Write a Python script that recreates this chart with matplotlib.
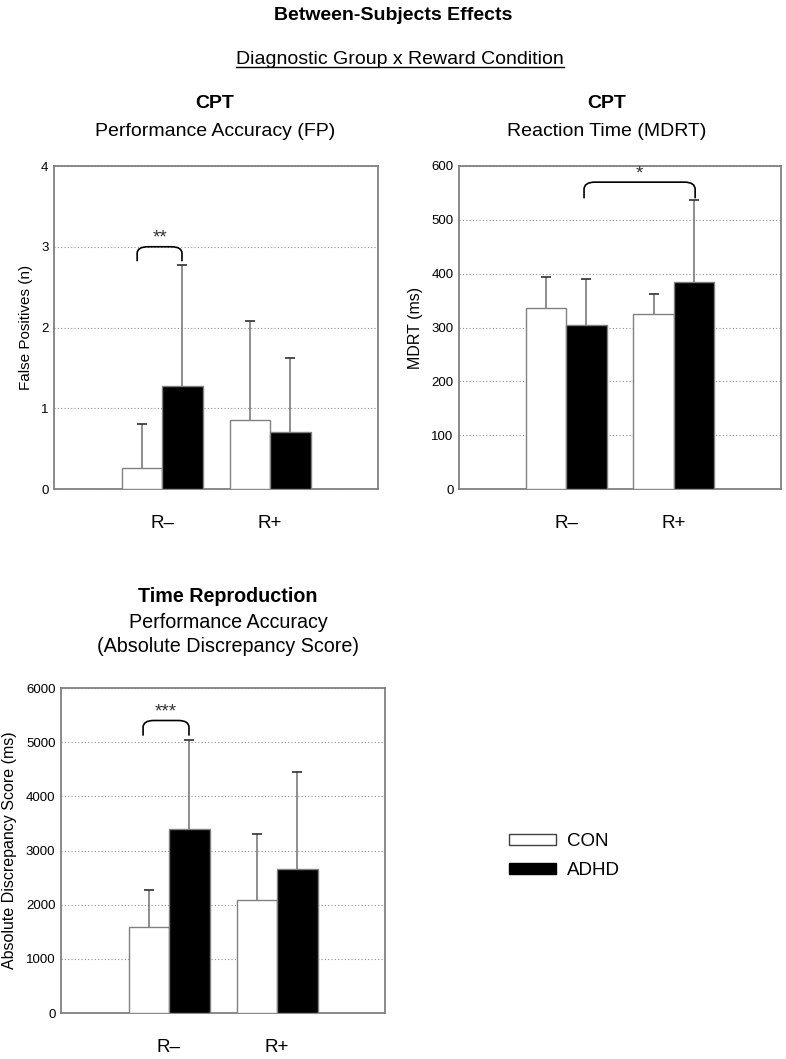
import numpy as np
import matplotlib
matplotlib.use("Agg")
import matplotlib.pyplot as plt
from matplotlib.patches import Patch, PathPatch
from matplotlib.path import Path
from matplotlib.lines import Line2D

plt.rcParams["font.family"] = ["Liberation Sans", "DejaVu Sans"]

# ----------------------------------------------------------------------
# data
# ----------------------------------------------------------------------
conditions = ["R\u2013", "R+"]
groups = ["CON", "ADHD"]

# CPT false positives
fp_con = [0.26, 0.85]
fp_adhd = [1.28, 0.70]
fp_con_sd = [0.55, 1.23]
fp_adhd_sd = [1.49, 0.92]

# CPT reaction time (MDRT, ms)
rt_con = [336, 326]
rt_adhd = [305, 385]
rt_con_sd = [57, 37]
rt_adhd_sd = [86, 151]

# Time reproduction absolute discrepancy score (ms)
tr_con = [1590, 2095]
tr_adhd = [3395, 2650]
tr_con_sd = [675, 1215]
tr_adhd_sd = [1645, 1795]

# significance brackets: (x_left, x_right, top, drop, label)
fp_bracket = (0.77, 1.185, 3.0, 0.18, "**")
rt_bracket = (1.165, 2.2, 570, 30, "*")
tr_bracket = (0.76, 1.185, 5400, 280, "***")

W, H = 786, 1059
BAR_W = 0.375
GREY = "#808080"


def px_axes(left, top, right, bottom):
    return [left / W, 1 - bottom / H, (right - left) / W, (bottom - top) / H]


def draw_bracket(ax, br, fs):
    x0, x1, top, drop, label = br
    dx = 0.1
    verts = [
        (x0, top - drop), (x0, top - drop * 0.45), (x0, top), (x0 + dx, top),
        (x1 - dx, top), (x1, top), (x1, top - drop * 0.45), (x1, top - drop),
    ]
    codes = [Path.MOVETO, Path.LINETO, Path.CURVE3, Path.CURVE3,
             Path.LINETO, Path.CURVE3, Path.CURVE3, Path.LINETO]
    ax.add_patch(PathPatch(Path(verts, codes), fill=False, edgecolor="black", lw=1.2, zorder=5))
    ax.text((x0 + x1) / 2, top, label, ha="center", va="bottom", fontsize=fs,
            color="#333333", zorder=5)


def bar_panel(ax, con, adhd, con_sd, adhd_sd, ymax, ystep, ylabel, tick_fs, lab_fs):
    x = np.arange(1, len(conditions) + 1)
    xc = x - BAR_W / 2
    xa = x + BAR_W / 2
    ax.bar(xc, con, BAR_W, color="white", edgecolor=GREY, lw=1, zorder=3)
    ax.bar(xa, adhd, BAR_W, color="black", edgecolor=GREY, lw=1, zorder=3)
    for xs, m, s in ((xc, con, con_sd), (xa, adhd, adhd_sd)):
        m = np.asarray(m, float)
        top = m + np.asarray(s, float)
        ax.vlines(xs, m, top, color="#707070", lw=1.1, zorder=4)
        ax.plot(xs, top, linestyle="none", marker="_", markersize=7, mew=1.2,
                color="#303030", zorder=4)
    ax.set_xlim(0, 3)
    ax.set_ylim(0, ymax)
    ax.set_yticks(np.arange(0, ymax + ystep / 2, ystep))
    ax.set_xticks(x)
    ax.set_xticklabels(conditions, fontsize=13.5)
    ax.tick_params(axis="x", length=0, pad=19)
    ax.tick_params(axis="y", length=0, pad=4, labelsize=tick_fs)
    ax.yaxis.grid(True, linestyle=(0, (1, 2)), color="#909090", lw=0.8, zorder=0)
    ax.set_axisbelow(True)
    for sp in ax.spines.values():
        sp.set_color(GREY)
        sp.set_linewidth(1.3)
    ax.set_ylabel(ylabel, fontsize=lab_fs, labelpad=6)


fig = plt.figure(figsize=(W / 100, H / 100), dpi=100)

ax1 = fig.add_axes(px_axes(54, 166, 378, 489))
bar_panel(ax1, fp_con, fp_adhd, fp_con_sd, fp_adhd_sd, 4, 1, "False Positives (n)", 9.5, 11)
draw_bracket(ax1, fp_bracket, 13.5)

ax2 = fig.add_axes(px_axes(459, 166, 781, 489))
bar_panel(ax2, rt_con, rt_adhd, rt_con_sd, rt_adhd_sd, 600, 100, "MDRT (ms)", 9.5, 11.5)
draw_bracket(ax2, rt_bracket, 13.5)

ax3 = fig.add_axes(px_axes(61, 688, 385, 1013))
bar_panel(ax3, tr_con, tr_adhd, tr_con_sd, tr_adhd_sd, 6000, 1000,
          "Absolute Discrepancy Score (ms)", 9.5, 11.5)
draw_bracket(ax3, tr_bracket, 13.5)


# titles
def ftext(x, y, s, **kw):
    return fig.text(x / W, 1 - y / H, s, ha="center", va="center", **kw)


ftext(393, 15, "Between-Subjects Effects", fontsize=14, fontweight="bold")
sub = ftext(400, 59, "Diagnostic Group x Reward Condition", fontsize=14)
ftext(215, 104, "CPT", fontsize=14, fontweight="bold")
ftext(215, 131, "Performance Accuracy (FP)", fontsize=14)
ftext(607, 104, "CPT", fontsize=14, fontweight="bold")
ftext(607, 131, "Reaction Time (MDRT)", fontsize=14)
ftext(228, 596, "Time Reproduction", fontsize=14.2, fontweight="bold")
ftext(228, 622, "Performance Accuracy", fontsize=14.2)
ftext(228, 646, "(Absolute Discrepancy Score)", fontsize=14.2)

# underline the subtitle
fig.canvas.draw()
bb = sub.get_window_extent()
uy = (bb.y0 + 1) / H
fig.add_artist(Line2D([bb.x0 / W, bb.x1 / W], [uy, uy], color="black", lw=1))

# legend
handles = [Patch(facecolor="white", edgecolor="#404040", lw=1),
           Patch(facecolor="black", edgecolor="black", lw=1)]
fig.legend(handles, groups, loc="upper left", bbox_to_anchor=(492 / W, 1 - 816 / H),
           frameon=False, fontsize=13.5, handlelength=2.5, handleheight=0.5,
           handletextpad=0.6, labelspacing=0.65)

fig.savefig("out.png", dpi=100)
